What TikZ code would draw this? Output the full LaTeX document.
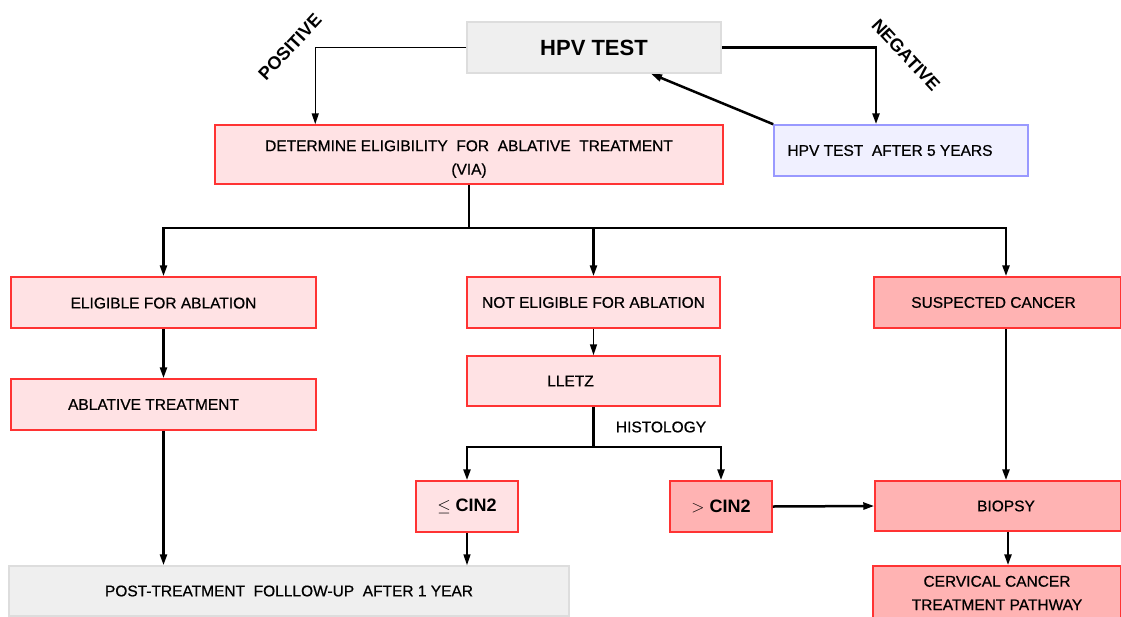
\documentclass[tikz,border=0pt]{standalone}
\usepackage{fontspec}
\setmainfont{Liberation Sans}
\newfontfamily\medfont{Liberation Sans}[FakeBold=0.6]
\usetikzlibrary{arrows.meta,calc}
\definecolor{boxred}{HTML}{FF3333}
\definecolor{pinkl}{HTML}{FFE2E4}
\definecolor{pinkd}{HTML}{FFB3B3}
\definecolor{greyf}{HTML}{EFEFEF}
\definecolor{greyd}{HTML}{DDDDDD}
\definecolor{bluef}{HTML}{F0F0FF}
\definecolor{blued}{HTML}{9999FF}
\begin{document}
\begin{tikzpicture}[x=1pt,y=-1pt,
  box/.style={draw=boxred, fill=pinkl, line width=1.5pt, inner sep=0pt, align=center,
    font=\medfont\fontsize{15.5}{23.5}\selectfont},
  darkbox/.style={box, fill=pinkd},
  greybox/.style={box, draw=greyd, fill=greyf},
  bluebox/.style={box, draw=blued, fill=bluef},
  arr/.style={-{Triangle[length=11pt,width=7pt]}, line width=1.5pt},
  tarr/.style={arr, line width=2.5pt},
  lab/.style={font=\fontsize{18}{20}\selectfont\bfseries, inner sep=0pt}
]
\useasboundingbox (0,0) rectangle (1121,616);
\clip (0,0) rectangle (1121,616);
\fill[white] (0,0) rectangle (1121,616);

\node[greybox, minimum width=254pt, minimum height=51pt, font=\fontsize{22}{24}\selectfont\bfseries] (hpv) at (594,47.5) {HPV TEST};
\node[box, minimum width=508pt, minimum height=59pt] (det) at (469,154.5) {\rule{0pt}{20pt}DETERMINE ELIGIBILITY \ FOR \ ABLATIVE \ TREATMENT\\(VIA)};
\node[bluebox, minimum width=254pt, minimum height=51pt] (hpv5) at (901,150.5) {\hspace*{-22pt}HPV TEST \ AFTER 5 YEARS};
\node[box, minimum width=305pt, minimum height=51pt] (elig) at (163.5,302.5) {\rule{0pt}{12pt}ELIGIBLE FOR ABLATION};
\node[box, minimum width=253pt, minimum height=51pt] (noel) at (593.5,302.5) {NOT ELIGIBLE FOR ABLATION};
\node[darkbox, minimum width=247pt, minimum height=51pt] (susp) at (997.5,302.5) {\hspace*{-8pt}SUSPECTED CANCER};
\node[box, minimum width=305pt, minimum height=51pt] (abl) at (163.5,404.5) {\hspace*{-20pt}ABLATIVE TREATMENT};
\node[box, minimum width=253pt, minimum height=50pt] (lletz) at (593.5,381) {\hspace*{-46pt}LLETZ};
\node[box, minimum width=102pt, minimum height=51pt, font=\fontsize{18}{20}\selectfont] (le) at (467,506.5) {$\leq$ \textbf{CIN2}};
\node[darkbox, minimum width=102pt, minimum height=51pt, font=\fontsize{18}{20}\selectfont] (gt) at (721,506.5) {$>$ \textbf{CIN2}};
\node[darkbox, minimum width=246pt, minimum height=50pt] (biop) at (998,506) {BIOPSY\hspace*{-16pt}};
\node[darkbox, minimum width=248pt, minimum height=54pt] (cerv) at (997,593) {CERVICAL CANCER\\TREATMENT PATHWAY};
\node[greybox, minimum width=560pt, minimum height=50pt] (post) at (289,591) {POST-TREATMENT \ FOLLLOW-UP \ AFTER 1 YEAR};

\node[lab, rotate=47] (pos) at (290,47) {POSITIVE};
\node[lab, rotate=-47] (neg) at (906,55) {NEGATIVE};
\node[font=\medfont\fontsize{15.5}{17}\selectfont] (hist) at (661,427) {HISTOLOGY};

\coordinate (split) at (469,228);
\coordinate (hsplit) at (593.5,447);

\draw[arr] (hpv.west) -| ([xshift=101pt]det.north west);
\draw[tarr] (hpv.east) -| ([xshift=-25pt]hpv5.north);
\draw[tarr] (hpv5.north west) -- ([xshift=57pt]hpv.south);

\draw[line width=1.5pt] (det.south) -- (split);
\draw[tarr] (split) -| (elig.north);
\draw[tarr] (split) -| (noel.north);
\draw[tarr] (split) -| ([xshift=8.5pt]susp.north);

\draw[tarr] (elig.south) -- (abl.north);
\draw[tarr] (abl.south) -- (abl.south |- post.north);
\draw[arr] (noel.south) -- (lletz.north);
\draw[line width=2.5pt] (lletz.south) -- (hsplit);
\draw[tarr] (hsplit) -| (le.north);
\draw[tarr] (hsplit) -| (gt.north);
\draw[arr] (le.south) -- (le.south |- post.north);
\draw[tarr] (gt.east) -- (biop.west);
\draw[tarr] ([xshift=8.5pt]susp.south) -- ([xshift=8.5pt]susp.south |- biop.north);
\draw[tarr] ([xshift=10pt]biop.south) -- ([xshift=10pt]biop.south |- cerv.north);
\end{tikzpicture}
\end{document}
